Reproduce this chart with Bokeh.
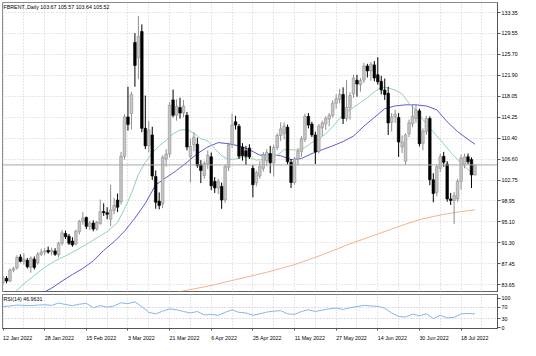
import pandas as pd
from bokeh.plotting import figure
from bokeh.layouts import column
from bokeh.models import Range1d, FixedTicker, NumeralTickFormatter, Label, Span, ColumnDataSource, Grid
from bokeh.embed import file_html
from bokeh.resources import INLINE

# ---------------- data ----------------
trade_days = [d for d in pd.bdate_range("2022-01-12", "2022-07-22") if d != pd.Timestamp("2022-04-15")]

opens = [84.1, 84.8, 84.3, 86.3, 86.7, 88.7, 87.9, 88.1, 86.8, 88.3, 87.7, 89.2, 89.6, 89.9, 89.6, 89.8, 89.1, 91.2, 93.0, 92.5,
         91.6, 91.1, 93.3, 95.2, 95.9, 94.3, 94.9, 93.8, 94.8, 97.0, 96.8, 95.6, 97.2, 99.1, 98.8, 107.1, 114.3, 114.9, 127.9, 125.1,
         129.9, 112.2, 109.0, 111.0, 103.4, 98.9, 98.4, 106.6, 107.5, 117.4, 114.6, 116.0, 115.0, 114.6, 107.0, 109.2, 109.3, 105.6, 103.6, 105.7,
         107.0, 102.5, 101.3, 101.6, 99.1, 105.1, 109.3, 113.4, 112.6, 108.8, 108.1, 108.6, 104.9, 102.3, 103.5, 104.9, 106.3, 107.6, 105.9, 108.7,
         110.9, 111.3, 112.4, 106.0, 102.3, 106.6, 108.0, 110.2, 114.4, 113.0, 111.0, 108.0, 112.3, 113.0, 113.9, 114.6, 116.8, 117.5, 118.4, 114.0,
         116.0, 118.5, 121.0, 120.2, 121.0, 123.6, 122.7, 123.8, 122.0, 120.8, 119.2, 118.6, 113.3, 114.3, 114.2, 108.8, 106.2, 111.2, 113.0, 114.0,
         115.4, 109.5, 111.6, 114.0, 102.8, 100.5, 104.9, 107.1, 105.7, 99.3, 99.0, 99.3, 102.5, 105.6, 107.0, 106.5, 103.67]
highs = [85.3, 85.2, 86.6, 86.9, 89.0, 89.2, 89.4, 88.5, 88.8, 88.8, 89.6, 90.2, 90.3, 90.6, 90.4, 90.3, 91.5, 93.6, 93.5, 92.9,
         92.3, 93.7, 95.5, 96.9, 96.1, 95.3, 95.4, 95.3, 99.2, 98.5, 97.8, 101.9, 99.5, 100.3, 107.9, 114.8, 119.8, 118.9, 129.6, 132.7,
         131.2, 118.2, 113.5, 112.5, 104.5, 100.5, 107.3, 108.4, 117.0, 119.3, 117.5, 117.8, 117.4, 115.2, 110.3, 111.5, 110.5, 106.4, 106.2, 108.2,
         107.8, 103.3, 103.0, 102.3, 105.6, 109.6, 114.9, 114.5, 113.0, 109.5, 109.0, 109.3, 105.5, 104.5, 106.2, 107.9, 108.4, 109.0, 109.2, 111.3,
         113.3, 113.3, 112.9, 106.6, 107.0, 108.6, 110.8, 114.9, 115.0, 113.4, 111.6, 113.0, 113.6, 114.4, 115.0, 117.3, 118.4, 119.4, 119.7, 121.0,
         118.8, 122.0, 122.0, 121.4, 124.2, 124.0, 124.3, 124.5, 125.2, 121.8, 121.3, 119.8, 115.0, 115.6, 115.0, 110.9, 111.3, 113.8, 116.6, 116.5,
         115.8, 112.2, 114.5, 114.4, 104.0, 105.6, 107.6, 107.9, 106.2, 100.4, 100.6, 103.0, 107.4, 107.6, 107.6, 106.9, 105.57]
lows = [83.6, 83.9, 84.1, 85.9, 86.4, 87.7, 87.3, 86.6, 85.8, 86.4, 87.3, 88.9, 89.0, 89.3, 89.0, 88.9, 88.6, 90.8, 92.0, 90.9,
        90.6, 90.8, 92.8, 94.6, 93.8, 93.6, 93.4, 93.5, 94.6, 96.2, 95.6, 94.3, 96.5, 96.9, 98.3, 106.5, 111.8, 112.0, 119.8, 121.2,
        111.5, 108.4, 107.8, 102.8, 97.5, 97.4, 97.6, 105.2, 106.9, 114.2, 113.6, 114.0, 114.2, 108.2, 102.3, 108.0, 105.0, 102.2, 103.0, 104.8,
        100.9, 100.4, 100.2, 97.5, 98.6, 104.4, 108.6, 112.0, 106.6, 106.3, 105.5, 106.6, 99.6, 101.6, 103.0, 104.3, 105.3, 104.0, 103.4, 108.2,
        109.9, 110.2, 105.6, 101.3, 101.9, 105.5, 107.0, 109.7, 112.2, 110.6, 105.7, 107.6, 110.8, 111.9, 112.6, 114.2, 115.8, 116.8, 113.0, 113.5,
        113.8, 117.8, 118.0, 118.9, 120.5, 121.5, 120.9, 120.8, 120.2, 118.4, 117.4, 111.0, 111.6, 113.2, 107.0, 107.7, 105.5, 110.6, 112.4, 113.2,
        108.9, 108.2, 111.0, 101.8, 98.7, 99.8, 104.2, 105.2, 98.8, 98.2, 94.7, 98.8, 101.0, 104.9, 105.6, 101.3, 103.64]
closes = [84.9, 84.3, 86.3, 86.6, 88.6, 87.9, 88.3, 86.9, 88.5, 86.8, 89.2, 89.6, 89.8, 89.6, 89.9, 89.2, 91.2, 93.1, 92.4, 91.2,
          90.9, 93.4, 95.2, 95.8, 94.3, 94.9, 93.8, 95.0, 97.0, 96.8, 96.5, 97.3, 98.1, 97.8, 107.1, 114.3, 112.9, 118.4, 123.7, 129.0,
          112.2, 109.0, 111.9, 103.5, 98.7, 98.1, 106.9, 107.5, 116.4, 114.6, 116.2, 115.0, 116.3, 108.8, 108.9, 110.6, 105.4, 104.5, 105.8, 107.3,
          101.7, 101.3, 102.5, 99.1, 105.2, 109.2, 112.8, 112.8, 107.1, 107.2, 107.1, 107.0, 101.9, 104.1, 105.2, 107.4, 107.8, 105.9, 108.7, 110.9,
          112.1, 112.6, 106.1, 102.3, 106.6, 108.0, 110.3, 114.4, 112.8, 111.0, 107.9, 112.6, 113.2, 114.0, 114.6, 116.8, 117.6, 118.4, 114.0, 116.0,
          118.2, 121.4, 120.3, 120.9, 123.6, 122.7, 123.9, 121.4, 120.7, 119.2, 118.4, 113.2, 114.3, 114.8, 109.7, 109.7, 111.0, 113.2, 114.4, 115.6,
          109.4, 111.7, 114.0, 102.8, 100.3, 105.2, 107.0, 106.0, 99.3, 99.0, 99.9, 102.5, 106.8, 107.0, 106.1, 103.7, 105.52]

# moving averages (bar index, value)
ma_fast_idx = [0, 3, 6, 9, 12, 15, 18, 21, 24, 27, 30, 33, 35, 37, 39, 41, 43, 45, 47, 49, 51, 53, 55, 57, 59, 61, 63, 65, 67, 69,
               71, 73, 75, 77, 79, 81, 83, 85, 87, 89, 91, 93, 95, 97, 99, 101, 103, 105, 107, 109, 111, 113, 115, 117, 119, 121, 123,
               125, 127, 129, 131, 133, 135, 136]
ma_fast_val = [80.6, 82.0, 83.8, 85.3, 86.8, 88.0, 88.9, 89.9, 91.0, 92.2, 93.3, 95.0, 97.5, 100.3, 103.8, 106.0, 107.7, 109.0, 110.0,
               111.2, 111.9, 112.0, 111.3, 110.3, 109.9, 108.5, 107.2, 106.5, 106.6, 107.0, 106.9, 106.4, 106.5, 106.9, 107.3, 108.3,
               108.3, 108.2, 108.7, 109.6, 110.3, 111.2, 112.5, 114.0, 115.2, 116.0, 116.9, 117.8, 118.9, 119.7, 119.6, 119.2, 118.5,
               116.8, 115.5, 113.8, 112.3, 110.8, 109.4, 107.8, 106.5, 105.3, 104.1, 103.7]
ma_mid_idx = [8, 11, 14, 17, 20, 23, 26, 29, 32, 35, 38, 41, 44, 47, 50, 53, 56, 59, 62, 65, 68, 71, 74, 77, 80, 83, 86, 89, 92, 95,
              98, 101, 104, 107, 110, 113, 116, 119, 122, 125, 128, 131, 134, 136]
ma_mid_val = [81.4, 82.0, 83.0, 84.3, 85.5, 86.6, 88.0, 89.9, 91.5, 93.4, 95.8, 98.5, 101.9, 103.2, 104.5, 106.0, 107.6, 108.8, 109.6,
              109.4, 109.0, 108.3, 107.3, 107.4, 107.2, 106.5, 106.7, 107.6, 108.3, 109.0, 109.8, 110.8, 112.6, 114.2, 115.8, 116.3,
              116.5, 116.5, 116.3, 115.6, 113.4, 111.6, 110.2, 109.3]
ma_slow_idx = [48, 52, 56, 60, 64, 68, 72, 76, 80, 84, 88, 92, 96, 100, 104, 108, 112, 116, 120, 124, 128, 132, 136]
ma_slow_val = [82.0, 82.5, 83.0, 83.5, 84.1, 84.7, 85.3, 85.9, 86.6, 87.3, 88.2, 89.1, 90.1, 91.1, 92.0, 92.9, 93.8, 94.7, 95.5, 96.1,
               96.6, 97.0, 97.3]

rsi_idx = list(range(0, 137, 2)) + [136]
rsi_val = [72, 74, 77, 76, 75, 77, 78, 76, 84, 79, 75, 80, 83, 68, 75, 70, 74, 85, 82, 88, 72, 52, 47, 56, 64, 61, 55, 50, 55, 43,
           45, 42, 52, 61, 52, 50, 42, 47, 53, 56, 58, 47, 45, 55, 61, 55, 60, 64, 67, 62, 68, 72, 76, 74, 73, 66, 50, 38, 36, 46,
           40, 47, 31, 42, 33, 35, 47, 48, 46.96]

price_ticks = [133.35, 129.55, 125.70, 121.90, 118.05, 114.25, 110.40, 106.60, 102.75, 98.95, 95.10, 91.30, 87.45, 83.65]
rsi_ticks = [0, 30, 70, 100]
rsi_levels = [30, 70]
last_price = 105.52
title_text = "FBRENT.,Daily  103.67 105.57 103.64 105.52"
rsi_text = "RSI(14) 46.9631"

date_tick_idx = list(range(0, len(trade_days), 12))
date_tick_lab = ["%d %s" % (trade_days[i].day, trade_days[i].strftime("%b %Y")) for i in date_tick_idx]

# ---------------- styling ----------------
FONT = "Liberation Sans"
FS_PX = 5.3
FS = "%.1fpx" % FS_PX
X0, X1 = -0.16, 142.5
Y0, Y1 = 82.21, 135.2
R0, R1 = -3.3, 113.3
GRID_COL = "#cfcfcf"
BULL_FILL, BULL_LINE = "#c6c6c6", "#8e8e8e"
BEAR = "#000000"
FW = 495
PX_PER_BAR = FW / (X1 - X0)

# approximate advance widths (em) of Liberation Sans, used to left-align the date labels at their bar
_EM = {" ": 0.278, "J": 0.5, "F": 0.611, "M": 0.833, "A": 0.667, "a": 0.556, "n": 0.556, "e": 0.556, "b": 0.556,
       "r": 0.333, "p": 0.556, "y": 0.5, "u": 0.556, "l": 0.222}


def text_width_px(s):
    return sum(_EM.get(ch, 0.556) for ch in s) * FS_PX


def style_y(ax):
    ax.major_label_text_font = FONT
    ax.major_label_text_font_size = FS
    ax.major_label_text_color = "#000000"
    ax.major_tick_out = 3
    ax.major_tick_in = 0
    ax.minor_tick_out = 0
    ax.minor_tick_in = 0
    ax.major_label_standoff = 1
    ax.axis_line_color = "#555555"
    ax.major_tick_line_color = "#555555"


p = figure(frame_width=FW, frame_height=290, x_range=Range1d(X0, X1), y_range=Range1d(Y0, Y1),
           output_backend="svg", toolbar_location=None, x_axis_location=None, y_axis_location="right",
           min_border_left=2, min_border_top=2, min_border_bottom=0, min_border_right=22,
           outline_line_color="#8c8c8c", background_fill_color="white", border_fill_color="white")

p.xgrid.visible = False
p.add_layout(Grid(dimension=0, ticker=FixedTicker(ticks=list(range(0, 143, 6))),
                  grid_line_color=GRID_COL, grid_line_dash="1 2"))
p.ygrid.grid_line_color = GRID_COL
p.ygrid.grid_line_dash = "1 2"

ya = p.yaxis[0]
ya.ticker = FixedTicker(ticks=price_ticks)
ya.formatter = NumeralTickFormatter(format="0.00")
style_y(ya)

idx = list(range(len(opens)))
up = [i for i in idx if closes[i] >= opens[i]]
dn = [i for i in idx if closes[i] < opens[i]]

src_up = ColumnDataSource(dict(x=up, hi=[highs[i] for i in up], lo=[lows[i] for i in up],
                               top=[closes[i] for i in up], bot=[opens[i] for i in up]))
src_dn = ColumnDataSource(dict(x=dn, hi=[highs[i] for i in dn], lo=[lows[i] for i in dn],
                               top=[opens[i] for i in dn], bot=[closes[i] for i in dn]))

# moving averages (drawn under the candles)
p.line(ma_slow_idx, ma_slow_val, line_color="#f2b48a", line_width=1)
p.line(ma_mid_idx, ma_mid_val, line_color="#5c5cd0", line_width=1)
p.line(ma_fast_idx, ma_fast_val, line_color="#8fd4b2", line_width=1)

p.add_layout(Span(location=last_price, dimension="width", line_color="#a8a8a8", line_width=1))

p.segment(x0="x", y0="lo", x1="x", y1="hi", source=src_up, line_color=BULL_LINE, line_width=1)
p.vbar(x="x", width=0.75, top="top", bottom="bot", source=src_up, fill_color=BULL_FILL, line_color=BULL_LINE, line_width=0.6)
p.segment(x0="x", y0="lo", x1="x", y1="hi", source=src_dn, line_color=BEAR, line_width=1)
p.vbar(x="x", width=0.75, top="top", bottom="bot", source=src_dn, fill_color=BEAR, line_color=BEAR, line_width=0.6)

p.add_layout(Span(location=Y0, dimension="width", line_color="#3a3a3a", line_width=2))

p.add_layout(Label(x=X0, y=Y1, x_offset=1, y_offset=-1, text=title_text, text_baseline="top",
                   text_font=FONT, text_font_size=FS, text_color="#000000"))
p.add_layout(Label(x=X1, y=last_price, x_offset=4, text="%.2f" % last_price, text_baseline="middle",
                   text_font=FONT, text_font_size=FS, text_color="white",
                   background_fill_color="black", padding=1))

# ---------------- RSI panel ----------------
r = figure(frame_width=FW, frame_height=34, x_range=p.x_range, y_range=Range1d(R0, R1),
           output_backend="svg", toolbar_location=None, x_axis_location="below", y_axis_location="right",
           min_border_left=2, min_border_top=2, min_border_bottom=0, min_border_right=22,
           outline_line_color="#7a7a7a", background_fill_color="white", border_fill_color="white")
r.xgrid.visible = False
r.ygrid.visible = False
r.add_layout(Grid(dimension=0, ticker=FixedTicker(ticks=list(range(0, 143, 6))),
                  grid_line_color=GRID_COL, grid_line_dash="1 2"))
r.add_layout(Grid(dimension=1, ticker=FixedTicker(ticks=rsi_levels),
                  grid_line_color="#bdbdbd", grid_line_dash="1 2"))

# date axis: texts centred half a label-width right of their bar (so each starts at its bar),
# small tick marks (minor ticks) at the labelled bars themselves
label_pos = [round(i + text_width_px(lab) / 2.0 / PX_PER_BAR, 3) for i, lab in zip(date_tick_idx, date_tick_lab)]
xa = r.xaxis[0]
xa.ticker = FixedTicker(ticks=label_pos, minor_ticks=date_tick_idx)
xa.major_label_overrides = {pos: lab for pos, lab in zip(label_pos, date_tick_lab)}
xa.major_label_text_font = FONT
xa.major_label_text_font_size = FS
xa.major_label_text_color = "#000000"
xa.major_tick_out = 0
xa.major_tick_in = 0
xa.minor_tick_out = 2
xa.minor_tick_in = 0
xa.major_label_standoff = 4
xa.axis_line_color = "#555555"
xa.minor_tick_line_color = "#555555"

ra = r.yaxis[0]
ra.ticker = FixedTicker(ticks=rsi_ticks)
style_y(ra)

r.line(rsi_idx, rsi_val, line_color="#86b6ea", line_width=1)
r.add_layout(Label(x=X0, y=R1, x_offset=1, y_offset=-1, text=rsi_text, text_baseline="top",
                   text_font=FONT, text_font_size=FS, text_color="#000000"))

layout = column(p, r, spacing=0)
open("out.html", "w").write(file_html(layout, INLINE))
